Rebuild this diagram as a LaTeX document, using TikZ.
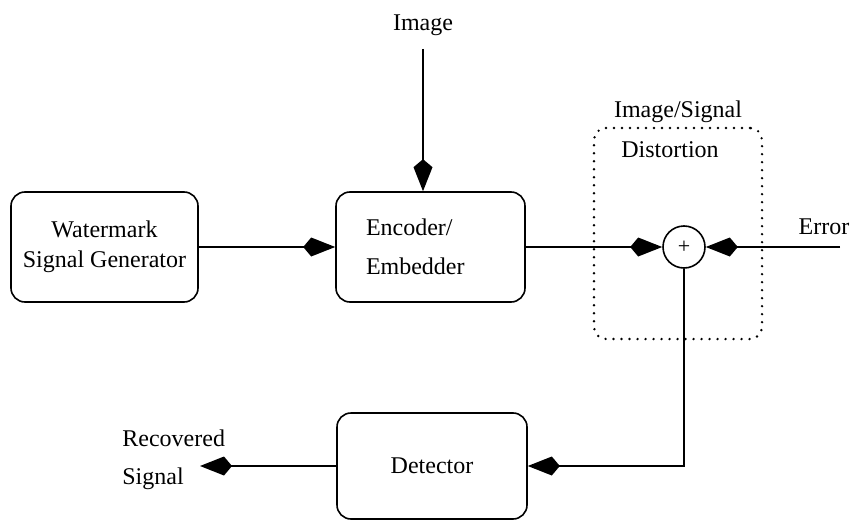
\documentclass[tikz,border=0pt]{standalone}
\usepackage{fontspec}
\setmainfont{Liberation Serif}
\newfontfamily\diagfont{Liberation Serif}
\usetikzlibrary{
	positioning		% Allows above=..., below=... of x placement
	, arrows.meta		% Kite style arrow tips
	, calc
}

\begin{document}
\begin{tikzpicture}[
			x=0.5pt, y=-0.5pt,
			element/.style={
				rectangle,
				rounded corners=7pt,
				draw=black, line width=0.8pt,
				font=\diagfont\fontsize{12}{15}\selectfont,
				align=center
			},
			txt/.style={
				font=\diagfont\fontsize{12}{15}\selectfont,
				inner sep=0pt
			},
			adder/.style={
				circle,
				draw=black, line width=0.8pt,
				minimum size=21pt,
				inner sep=0pt,
				font=\diagfont\fontsize{11}{12}\selectfont
			},
			region/.style={
				rectangle,
				rounded corners=6pt,
				draw=black, line width=1.3pt,
				dash pattern=on 0pt off 4pt, line cap=round
			},
			arrow/.style={
				-{Kite[length=16pt, width=9.5pt, inset=4pt]},
				line width=0.9pt
			}]

			\useasboundingbox (0,0) rectangle (856,519);

			%%% Main blocks
			\node [element, minimum width=93.5pt, minimum height=55pt] (gen) at (104.5,247) {Watermark\\Signal Generator};
			\node [element, minimum width=94.5pt, minimum height=55pt, text width=64.5pt, align=left] (enc) at (430.5,247) {Encoder/\\[4.5pt]Embedder};
			\node [adder] (sum) at (684,247) {+};
			\node [element, minimum width=95pt, minimum height=53pt] (det) at (432,466) {Detector};

			% Dotted distortion region round the adder
			\node [region, minimum width=84pt, minimum height=105.5pt] (dist) at (678,233.5) {};
			\node [txt, above=2pt of dist] (distname) {Image/Signal};
			\node [txt, below=7.5pt of dist.north, xshift=-4pt] (distdesc) {Distortion};

			%%% Free ends
			\coordinate (imgin) at (423,49);
			\coordinate (err) at (840,247);
			\coordinate (out) at (200,466);
			\node [txt, above=6.5pt of imgin] (img) {Image};
			\node [txt, above=6pt of err, xshift=-8pt] (errtxt) {Error};
			\node [txt, align=left, anchor=west] (rec) at (122,460) {Recovered\\[4pt]Signal};

			\draw [arrow] (imgin) -- (enc.north -| imgin);
			\draw [arrow] (gen) -- (enc);
			\draw [arrow] (enc) -- (sum);
			\draw [arrow] (err) -- (sum);
			\draw [arrow] (sum) |- (det);
			\draw [arrow] (det) -- (out);

		\end{tikzpicture}
\end{document}
